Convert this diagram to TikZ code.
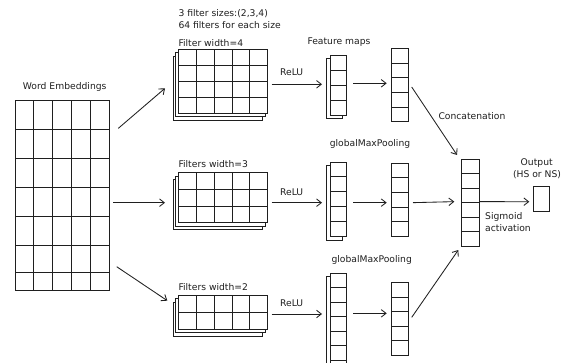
\documentclass[tikz,border=0pt]{standalone}
\usepackage{fontspec}
\setmainfont{DejaVu Sans}
\usetikzlibrary{calc,arrows.meta}
\definecolor{ink}{gray}{0.12}

% inner cell lines of a rectangular node: name, columns, rows
\newcommand\innerlines[3]{%
  \ifnum#2>1
    \foreach \i in {2,...,#2}{%
      \pgfmathsetmacro\fr{(\i-1)/#2}%
      \draw[cell] ($(#1.north west)!\fr!(#1.north east)$) -- ($(#1.south west)!\fr!(#1.south east)$);}%
  \fi
  \ifnum#3>1
    \foreach \j in {2,...,#3}{%
      \pgfmathsetmacro\fr{(\j-1)/#3}%
      \draw[cell] ($(#1.north west)!\fr!(#1.south west)$) -- ($(#1.north east)!\fr!(#1.south east)$);}%
  \fi}

% a grid node: name, x, y (top left), width, height, columns, rows
\newcommand\gridnode[7]{%
  \node[gridbox, minimum width=#4pt, minimum height=#5pt, anchor=north west] (#1) at (#2,#3) {};
  \innerlines{#1}{#6}{#7}}

\begin{document}
\begin{tikzpicture}[x=1pt,y=-1pt,
  gridbox/.style={draw=ink, fill=white, line width=0.85pt, inner sep=0pt, outer sep=0pt},
  cell/.style={draw=ink, line width=0.8pt},
  arr/.style={draw=ink, line width=0.85pt, -{Straight Barb[length=4.8pt,width=7.5pt]}},
  txt/.style={text=ink, inner sep=0pt, font=\fontsize{9.2}{10.5}\selectfont}]
\clip (0,0) rectangle (564,363);
\fill[white] (0,0) rectangle (564,363);

% word embedding matrix
\node[gridbox, minimum width=94pt, minimum height=189.3pt, anchor=north west] (we) at (15,100.7) {};
\innerlines{we}{5}{1}
\foreach \yy in {28.6,57.6,86.6,116,144.3,172}
  \draw[cell] ($(we.north west)+(0,\yy)$) -- ($(we.north east)+(0,\yy)$);
\node[txt] (lwe) at (64.7,86.7) {Word Embeddings};

% filter stacks
\node[gridbox, minimum width=89.4pt, minimum height=64pt, anchor=north west] (f4b2) at (173,56.3) {};
\node[gridbox, minimum width=89.4pt, minimum height=64pt, anchor=north west] (f4b1) at (175.6,52.8) {};
\gridnode{f4}{178.3}{49.3}{89.4}{64}{5}{4}

\node[gridbox, minimum width=89.4pt, minimum height=50pt, anchor=north west] (f3b2) at (173,179.7) {};
\node[gridbox, minimum width=89.4pt, minimum height=50pt, anchor=north west] (f3b1) at (175.6,176.2) {};
\gridnode{f3}{178.3}{172.7}{89.4}{50}{5}{3}

\node[gridbox, minimum width=89.4pt, minimum height=34.3pt, anchor=north west] (f2b2) at (173,302) {};
\node[gridbox, minimum width=89.4pt, minimum height=34.3pt, anchor=north west] (f2b1) at (175.6,298.5) {};
\gridnode{f2}{178.3}{295}{89.4}{34.3}{5}{2}

\node[txt, anchor=west] (lsz) at (178.3,13.3) {3 filter sizes:(2,3,4)};
\node[txt, anchor=west] (lnum) at (178.3,25) {64 filters for each size};
\node[txt, anchor=west] (lf4) at (178.3,42.7) {Filter width=4};
\node[txt, anchor=west] (lf3) at (178.3,164.3) {Filters width=3};
\node[txt, anchor=west] (lf2) at (178.3,286.7) {Filters width=2};

% feature maps
\node[gridbox, minimum width=16.2pt, minimum height=60pt, anchor=north west] (m1b) at (326.5,58.5) {};
\gridnode{m1}{330.5}{55}{16.2}{60}{1}{4}
\node[gridbox, minimum width=16.2pt, minimum height=74.5pt, anchor=north west] (m2b) at (326.5,165.5) {};
\gridnode{m2}{330.5}{162}{16.2}{74.5}{1}{5}
\node[gridbox, minimum width=16.2pt, minimum height=101.2pt, anchor=north west] (m3b) at (326.5,276.8) {};
\gridnode{m3}{330.5}{273.3}{16.2}{101.2}{1}{7}
\node[txt] (lfm) at (339,42) {Feature maps};

% pooled vectors
\gridnode{p1}{391.7}{48.3}{16.6}{73.4}{1}{5}
\gridnode{p2}{391.7}{163.3}{16.6}{72.7}{1}{5}
\gridnode{p3}{391.7}{282.7}{16.6}{72.3}{1}{5}
\node[txt] (lgp1) at (370,144) {globalMaxPooling};
\node[txt] (lgp2) at (371.7,260) {globalMaxPooling};

% concatenated vector and output
\gridnode{cat}{461.7}{159.3}{17.6}{86.7}{1}{6}
\node[gridbox, minimum width=16pt, minimum height=25pt, anchor=north west] (out) at (533.3,186.7) {};
\node[txt, anchor=west] (lcat) at (438.3,116) {Concatenation};
\node[txt] (lout1) at (536.7,163.3) {Output};
\node[txt] (lout2) at (537,175) {(HS or NS)};
\node[txt, anchor=west] (lsig1) at (485,216.7) {Sigmoid};
\node[txt, anchor=west] (lsig2) at (485,228.3) {activation};

% embeddings to filters
\draw[arr] ($(we.east)+(9.3,-67)$) -- ($(f4.west)+(-13.3,7)$);
\draw[arr] ($(we.east)+(4.3,7.35)$) -- ($(f3.west)+(-13.3,5)$);
\draw[arr] ($(we.east)+(7.7,71.35)$) -- ($(f2.west)+(-11,-11.5)$);

% ReLU
\draw[arr] ($(f4.east)+(4,3)$) -- ($(m1.west)+(-8.5,-0.7)$);
\draw[arr] ($(f3.east)+(4,5)$) -- ($(m2.west)+(-8.5,3.45)$);
\draw[arr] ($(f2.east)+(4,1.85)$) -- ($(m3.west)+(-8.5,-9.9)$);
\node[txt] (lr1) at (291.7,72.7) {ReLU};
\node[txt] (lr2) at (291.7,192.7) {ReLU};
\node[txt] (lr3) at (291.7,303.3) {ReLU};

% pooling
\draw[arr] ($(p1.west)+(-38.4,-1.7)$) -- ($(p1.west)+(-5,-1.7)$);
\draw[arr] ($(p2.west)+(-38.4,3)$) -- ($(p2.west)+(-5,3)$);
\draw[arr] ($(p3.west)+(-38.4,-5.5)$) -- ($(p3.west)+(-5,-5.5)$);

% concatenation
\draw[arr] ($(p1.east)+(3.4,2)$) -- ($(cat.north west)+(-4.7,-4.3)$);
\draw[arr] ($(p2.east)+(4.7,3)$) -- ($(cat.west)+(-7.4,-1)$);
\draw[arr] ($(p3.east)+(3.4,-1.5)$) -- ($(cat.south west)+(-3.4,4)$);

% sigmoid output
\draw[arr] ($(cat.east)+(0,-1)$) -- ($(out.west)+(-4,2.5)$);
\end{tikzpicture}
\end{document}
